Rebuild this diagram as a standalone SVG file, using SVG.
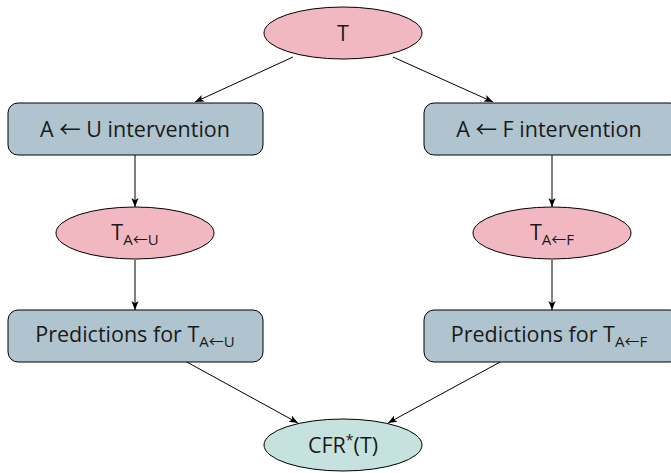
<svg xmlns="http://www.w3.org/2000/svg" width="671" height="473" viewBox="0 0 671 473">
<defs>
<marker id="ah" viewBox="0 0 10 10" refX="10" refY="5" markerWidth="9" markerHeight="9" markerUnits="userSpaceOnUse" orient="auto">
<path d="M0,1 L10,5 L0,9 L2.5,5 Z" fill="#000"/>
</marker>
<style>
.pink{fill:#f2b8c1;stroke:#000;stroke-width:1}
.box{fill:#b0c4d0;stroke:#000;stroke-width:1}
.green{fill:#c6e2de;stroke:#000;stroke-width:1}
.t{font-family:"Open Sans","Noto Sans","DejaVu Sans",sans-serif;font-size:21.5px;fill:#1a1a1a;text-anchor:middle}
.sub{font-size:15px}
.ar{font-family:"Noto Sans CJK JP","DejaVu Sans",sans-serif}
.edge{stroke:#000;stroke-width:1;fill:none;marker-end:url(#ah)}
</style>
</defs>
<rect width="671" height="473" fill="#fff"/>
<g id="connectors">
<line class="edge" x1="293" y1="57" x2="195" y2="102"/>
<line class="edge" x1="393" y1="57" x2="493" y2="102"/>
<line class="edge" x1="135" y1="155" x2="135" y2="207"/>
<line class="edge" x1="552" y1="155" x2="552" y2="207"/>
<line class="edge" x1="135" y1="260" x2="135" y2="310"/>
<line class="edge" x1="552" y1="260" x2="552" y2="310"/>
<line class="edge" x1="185" y1="361" x2="298" y2="423"/>
<line class="edge" x1="502" y1="361" x2="388" y2="423"/>
</g>
<g id="T">
<ellipse class="pink" cx="343" cy="33" rx="79" ry="26"/>
<text class="t" x="343" y="41">T</text>
</g>
<g id="intervU">
<rect class="box" x="8" y="103" width="255" height="52" rx="10"/>
<text class="t" x="135" y="137">A <tspan class="ar">←</tspan> U intervention</text>
</g>
<g id="intervF">
<rect class="box" x="424" y="103" width="256" height="52" rx="10"/>
<text class="t" x="549" y="137">A <tspan class="ar">←</tspan> F intervention</text>
</g>
<g id="TU">
<ellipse class="pink" cx="135" cy="233" rx="79" ry="26"/>
<text class="t" x="135" y="240">T<tspan class="sub" dy="5">A<tspan class="ar">←</tspan>U</tspan></text>
</g>
<g id="TF">
<ellipse class="pink" cx="552" cy="233" rx="79" ry="26"/>
<text class="t" x="552" y="240">T<tspan class="sub" dy="5">A<tspan class="ar">←</tspan>F</tspan></text>
</g>
<g id="predU">
<rect class="box" x="8" y="310" width="255" height="52" rx="10"/>
<text class="t" x="135" y="342">Predictions for T<tspan class="sub" dy="5">A<tspan class="ar">←</tspan>U</tspan></text>
</g>
<g id="predF">
<rect class="box" x="424" y="310" width="256" height="52" rx="10"/>
<text class="t" x="549" y="342">Predictions for T<tspan class="sub" dy="5">A<tspan class="ar">←</tspan>F</tspan></text>
</g>
<g id="CFR">
<ellipse class="green" cx="343" cy="445" rx="79" ry="26"/>
<text class="t" x="343" y="453">CFR<tspan font-size="14px" dy="-8">*</tspan><tspan dy="8">(T)</tspan></text>
</g>
</svg>
